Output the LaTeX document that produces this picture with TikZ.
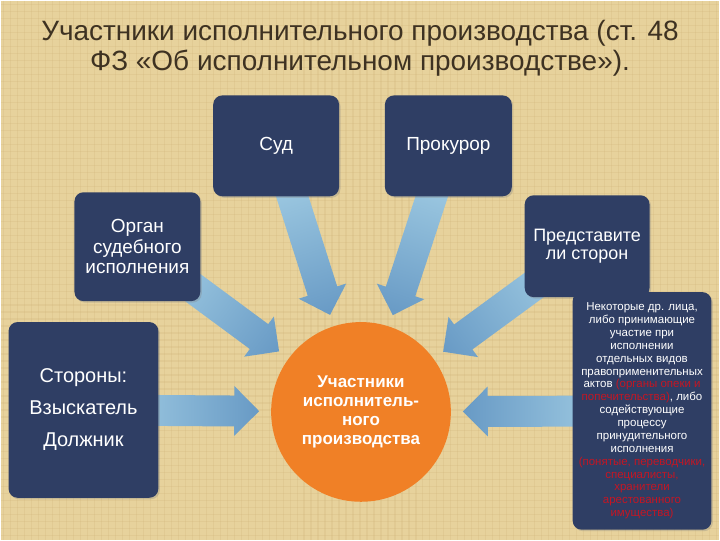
\documentclass[tikz,border=0pt]{standalone}
\usepackage{fontspec}
\setmainfont{Liberation Sans}
\usetikzlibrary{calc,shadows}
\definecolor{bgsand}{RGB}{231,210,156}
\definecolor{bgweave}{RGB}{205,178,118}
\definecolor{boxnavy}{RGB}{47,62,100}
\definecolor{coreorange}{RGB}{240,128,38}
\definecolor{titlebrown}{RGB}{62,50,34}
\definecolor{flowlight}{RGB}{172,214,233}
\definecolor{flowdark}{RGB}{104,154,197}
\definecolor{notered}{RGB}{196,22,36}
\pgfdeclarelayer{background}
\pgfsetlayers{background,main}
\tikzset{
  heading/.style={text=titlebrown, align=center, font=\fontsize{28}{30}\selectfont},
  party/.style={fill=boxnavy, rounded corners=9pt, text=white, align=center, inner sep=0pt,
    drop shadow={opacity=0.3, shadow xshift=1.5pt, shadow yshift=-1.5pt}},
  core/.style={circle, fill=coreorange, text=white, align=center, inner sep=0pt,
    minimum size=180pt, font=\bfseries\fontsize{17}{19}\selectfont},
  weave/.style={draw=bgweave, line width=1.2pt, opacity=0.22}
}
% wide shaded arrow from the centre of #1 towards #2, stopping short of it
\newcommand{\flowarrow}[2]{%
  \path let \p1=(#1.center), \p2=(#2.center) in \pgfextra{%
    \pgfmathsetmacro\flowang{atan2(\y2-\y1,\x2-\x1)}%
    \pgfmathsetmacro\flowlen{veclen(\x2-\x1,\y2-\y1)-102}%
    \xdef\flowang{\flowang}\xdef\flowlen{\flowlen}};
  \begin{scope}[transform canvas={shift={(#1.center)}, rotate=\flowang}]
    \shade[left color=flowlight, right color=flowdark]
      (0pt,15.5pt) -- ({\flowlen pt-25pt},15.5pt) -- ({\flowlen pt-25pt},25pt)
      -- ({\flowlen pt},0pt) -- ({\flowlen pt-25pt},-25pt)
      -- ({\flowlen pt-25pt},-15.5pt) -- (0pt,-15.5pt) -- cycle;
  \end{scope}}

\begin{document}
\begin{tikzpicture}[x=1pt, y=-1pt]
\begin{pgfonlayer}{background}
\fill[bgsand] (0,0) rectangle (720,540);
% woven texture
\foreach \gx in {3,10,...,720} \draw[weave] (\gx,0) -- (\gx,540);
\foreach \gy in {4,11,...,540} \draw[weave] (0,\gy) -- (720,\gy);
\end{pgfonlayer}
\useasboundingbox (0,0) rectangle (720,540);

% Title
\node[heading] (title) at (360,48) {Участники исполнительного производства (ст. 48\\ФЗ «Об исполнительном производстве»).};

% Participants
\node[party, minimum width=126pt, minimum height=101pt, font=\fontsize{19}{21}\selectfont] (sud) at (276,145.5) {Суд};
\node[party, minimum width=127pt, minimum height=101pt, font=\fontsize{19}{21}\selectfont] (prok) at (448.5,145.5) {Прокурор};
\node[party, minimum width=126pt, minimum height=109pt, font=\fontsize{19}{20.5}\selectfont] (organ) at (137,246.5) {Орган\\судебного\\исполнения};
\node[party, minimum width=125pt, minimum height=102pt, font=\fontsize{18}{19}\selectfont] (pred) at (587.5,246) {Представите\\ли сторон};
\node[party, minimum width=150pt, minimum height=176pt, font=\fontsize{20}{32}\selectfont] (storony) at (83,410) {Стороны:\\Взыскатель\\Должник};
\node[party, minimum width=139pt, minimum height=238pt, font=\fontsize{11.5}{12.9}\selectfont] (others) at (642.5,411) {Некоторые др. лица,\\либо принимающие\\участие при\\исполнении\\отдельных видов\\правоприменительных\\актов \textcolor{notered}{(органы опеки и}\\\textcolor{notered}{попечительства)}, либо\\содействующие\\процессу\\принудительного\\исполнения\\\textcolor{notered}{(понятые, переводчики,}\\\textcolor{notered}{специалисты,}\\\textcolor{notered}{хранители}\\\textcolor{notered}{арестованного}\\\textcolor{notered}{имущества)}};

% Centre
\node[core] (core) at (361,412) {Участники\\исполнитель-\\ного\\производства};

% Arrows towards the centre
\begin{pgfonlayer}{background}
\foreach \src in {sud,prok,organ,pred,storony,others} {\flowarrow{\src}{core}}
\end{pgfonlayer}
\end{tikzpicture}
\end{document}
